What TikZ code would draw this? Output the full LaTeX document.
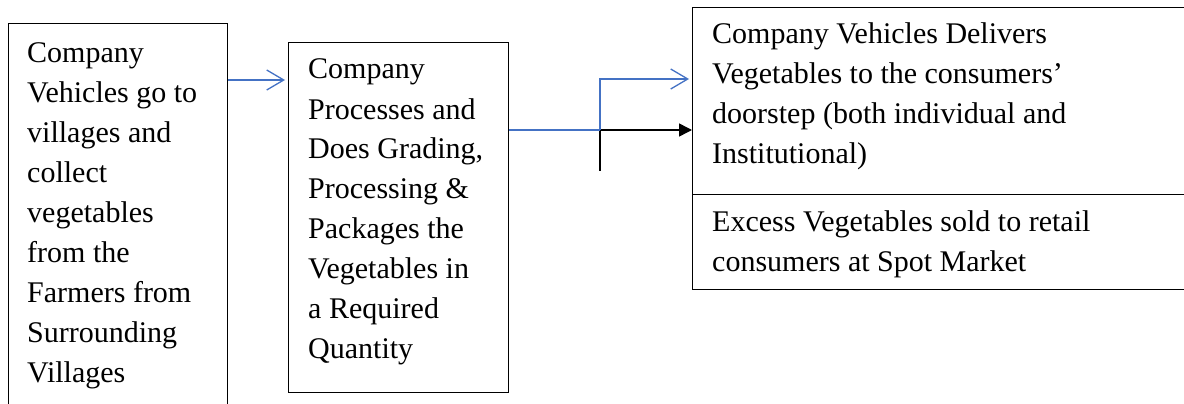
\documentclass[tikz,border=0pt]{standalone}
\usepackage{fontspec}
\setmainfont{Liberation Serif}
\usetikzlibrary{arrows.meta}
\definecolor{lineblue}{RGB}{68,114,196}
\tikzset{
  box/.style={draw=black, line width=1.3pt, rectangle, inner sep=0pt, anchor=north west},
  txt/.style={inner sep=0pt, anchor=base west, font=\fontsize{30}{40}\selectfont},
  bluearrow/.style={draw=lineblue, line width=1.3pt, -{Straight Barb[length=17pt,width=20pt,line width=1.3pt]}},
  blueline/.style={draw=lineblue, line width=1.3pt},
  blackarrow/.style={draw=black, line width=1.5pt, -{Triangle[length=13pt,width=13pt]}},
  blackline/.style={draw=black, line width=1.5pt}
}
\newcommand{\boxtext}[2]{\parbox[t]{#1}{\raggedright\fontsize{30}{40}\selectfont #2}}
\begin{document}
\begin{tikzpicture}[x=1pt,y=-1pt]
\useasboundingbox (0,0) rectangle (1184,404);
\clip (0,0) rectangle (1184,404);
% boxes
\node[box, minimum width=219pt, minimum height=420pt] (A) at (8,23) {};
\node[box, minimum width=220pt, minimum height=350pt] (B) at (288,42) {};
\node[box, minimum width=520pt, minimum height=187pt] (C1) at (692,7) {};
\node[box, minimum width=520pt, minimum height=95pt] (C2) at (692,194) {};
% texts
\node[txt] (tA) at (27,63) {\boxtext{200pt}{Company\\Vehicles go to\\villages and\\collect\\vegetables\\from the\\Farmers from\\Surrounding\\Villages}};
\node[txt] (tB) at (308,79) {\boxtext{200pt}{Company\\Processes and\\Does Grading,\\Processing \&\\Packages the\\Vegetables in\\a Required\\Quantity}};
\node[txt] (tC1) at (712,44) {\boxtext{450pt}{Company Vehicles Delivers\\Vegetables to the consumers’\\doorstep (both individual and\\Institutional)}};
\node[txt] (tC2) at (712,231) {\boxtext{450pt}{Excess Vegetables sold to retail\\consumers at Spot Market}};
% connectors
\coordinate (r1) at (0,80);
\coordinate (r2) at (0,79);
\coordinate (j) at (600,130);
\coordinate (k) at (600,171);
\draw[bluearrow] (A.east |- r1) -- ([xshift=-3pt]B.west |- r1);
\draw[blackarrow] (j) -- (C1.west |- j);
\draw[blackline] (j) -- (k);
\draw[blueline] (B.east |- j) -- (j);
\draw[bluearrow] (j) |- ([xshift=-3pt]C1.west |- r2);
\end{tikzpicture}
\end{document}
